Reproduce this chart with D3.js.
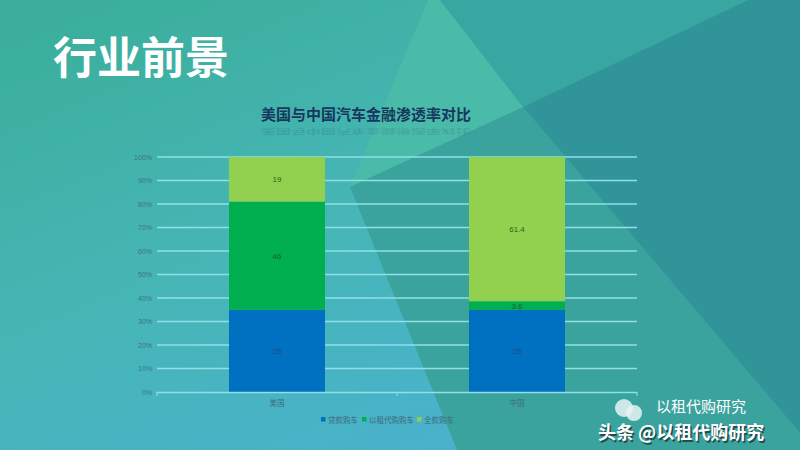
<!DOCTYPE html>
<html><head><meta charset="utf-8">
<script src="https://cdn.jsdelivr.net/npm/d3@7"></script>
<style>html,body{margin:0;padding:0;overflow:hidden;background:#3fb3a5;}</style>
</head><body>
<svg id="c" width="800" height="450"></svg>
<script>
const categories = ["美国", "中国"];
const seriesNames = ["贷款购车", "以租代购购车", "全款购车"];
const loanValues = [35, 35];
const leaseValues = [46, 3.6];
const cashValues = [19, 61.4];
const yTicks = [0, 10, 20, 30, 40, 50, 60, 70, 80, 90, 100];
const seriesColors = ["#0070c0", "#00b050", "#92d050"];

const svg = d3.select("#c");
const W = 800, H = 450;
const defs = svg.append("defs");
const g1 = defs.append("linearGradient").attr("id","bg").attr("x1","0").attr("y1","0.1").attr("x2","0.65").attr("y2","1");
g1.append("stop").attr("offset","0").attr("stop-color","#3baf9c");
g1.append("stop").attr("offset","0.5").attr("stop-color","#46b6b6");
g1.append("stop").attr("offset","1").attr("stop-color","#4ab1cf");
svg.append("rect").attr("width",W).attr("height",H).attr("fill","url(#bg)");

// background polygons
const polys = [
  {p:[[428,0],[440,0],[523,107],[350,187]], c:"#49bba8"},
  {p:[[440,0],[748,0],[523,107]], c:"#38a7a1"},
  {p:[[350,187],[523,107],[800,433],[800,450],[457,450]], c:"#3ba39e"},
  {p:[[523,107],[748,0],[800,0],[800,433]], c:"#309498"}
];
polys.forEach(d=>svg.append("polygon").attr("points",d.p.map(q=>q.join(",")).join(" ")).attr("fill",d.c));

// heading
svg.append("text").attr("x",53).attr("y",74).text("行业前景")
  .attr("font-family","Noto Sans CJK SC").attr("font-weight","bold").attr("font-size",44)
  .attr("fill","#ffffff");

// chart title with faint reflection
const titleFont = "Noto Sans CJK SC";
svg.append("text").attr("x",366).attr("y",120).attr("text-anchor","middle")
  .text("美国与中国汽车金融渗透率对比").attr("font-family",titleFont).attr("font-weight","bold")
  .attr("font-size",15).attr("fill","#17375e");
svg.append("text").attr("transform","translate(366,129) scale(1,-0.45)").attr("text-anchor","middle")
  .text("美国与中国汽车金融渗透率对比").attr("font-family",titleFont).attr("font-weight","bold")
  .attr("font-size",15).attr("fill","#17375e").attr("opacity",0.13);

const L = 157, R = 637, T = 157, B = 392;
const x = d3.scaleBand().domain(categories).range([L,R]).paddingInner(0.6).paddingOuter(0.3);
const xb = d3.scaleBand().domain(categories).range([L,R]).padding(0);
const y = d3.scaleLinear().domain([0,100]).range([B,T]);

// gridlines
svg.append("g").selectAll("line").data(yTicks.filter(t=>t>0)).join("line")
  .attr("x1",L).attr("x2",R).attr("y1",d=>y(d)).attr("y2",d=>y(d))
  .attr("stroke","#8fe0e8").attr("stroke-width",1.3);
// y labels
svg.append("g").selectAll("text").data(yTicks).join("text")
  .attr("x",L-5).attr("y",d=>y(d)+2.5).attr("text-anchor","end")
  .text(d=>d+"%").attr("font-family","Liberation Sans").attr("font-size",7).attr("fill","#3d7480");

// stacked bars
const rows = categories.map((c,i)=>({cat:c, "贷款购车":loanValues[i], "以租代购购车":leaseValues[i], "全款购车":cashValues[i]}));
const stack = d3.stack().keys(seriesNames)(rows);
const barG = svg.append("g");
stack.forEach((s,si)=>{
  barG.selectAll(".b"+si).data(s).join("rect")
    .attr("x",d=>x(d.data.cat)).attr("width",x.bandwidth())
    .attr("y",d=>y(d[1])).attr("height",d=>y(d[0])-y(d[1]))
    .attr("fill",seriesColors[si]);
});
stack.forEach((s,si)=>{
  barG.selectAll(".t"+si).data(s).join("text")
    .attr("x",d=>x(d.data.cat)+x.bandwidth()/2).attr("y",d=>y((d[0]+d[1])/2)+3)
    .attr("text-anchor","middle").text(d=>d.data[s.key])
    .attr("font-family","Liberation Sans").attr("font-size",8)
    .attr("fill", si===0 ? "#1d4f80" : (si===1 ? "#1f5a3a" : "#3a5a1a"));
});

// x axis
svg.append("line").attr("x1",L).attr("x2",R).attr("y1",B+0.5).attr("y2",B+0.5)
  .attr("stroke","#8fe0e8").attr("stroke-width",1.3);
const bounds = [L].concat(categories.map(c=>xb(c)+xb.bandwidth()));
svg.append("g").selectAll("line").data(bounds).join("line")
  .attr("x1",d=>d).attr("x2",d=>d).attr("y1",B).attr("y2",B+4)
  .attr("stroke","#8fe0e8").attr("stroke-width",1);
svg.append("g").selectAll("text").data(categories).join("text")
  .attr("x",d=>x(d)+x.bandwidth()/2).attr("y",B+14).attr("text-anchor","middle")
  .text(d=>d).attr("font-family","Noto Sans CJK SC").attr("font-size",7.5).attr("fill","#3d6a7a");

// legend
const legX = [321, 362, 417];
const lg = svg.append("g");
seriesNames.forEach((n,i)=>{
  lg.append("rect").attr("x",legX[i]).attr("y",417).attr("width",4.5).attr("height",4.5).attr("fill",seriesColors[i]);
  lg.append("text").attr("x",legX[i]+7).attr("y",422.5).text(n)
    .attr("font-family","Noto Sans CJK SC").attr("font-size",7.5).attr("fill","#3d6a7a");
});

// watermark
const wm = svg.append("g");
wm.append("circle").attr("cx",624).attr("cy",408).attr("r",9).attr("fill","#e8f4f2").attr("opacity",0.85);
wm.append("circle").attr("cx",634).attr("cy",413).attr("r",8).attr("fill","#e8f4f2").attr("opacity",0.85);
wm.append("text").attr("x",656).attr("y",412).text("以租代购研究")
  .attr("font-family","Noto Sans CJK SC").attr("font-size",15).attr("fill","#ffffff");
wm.append("text").attr("x",599.5).attr("y",440.5).text("头条 @以租代购研究")
  .attr("font-family","Noto Sans CJK SC").attr("font-weight","bold").attr("font-size",18).attr("fill","#1a3a3a").attr("opacity",0.8);
wm.append("text").attr("x",598).attr("y",439).text("头条 @以租代购研究")
  .attr("font-family","Noto Sans CJK SC").attr("font-weight","bold").attr("font-size",18).attr("fill","#ffffff");
</script>
</body></html>
